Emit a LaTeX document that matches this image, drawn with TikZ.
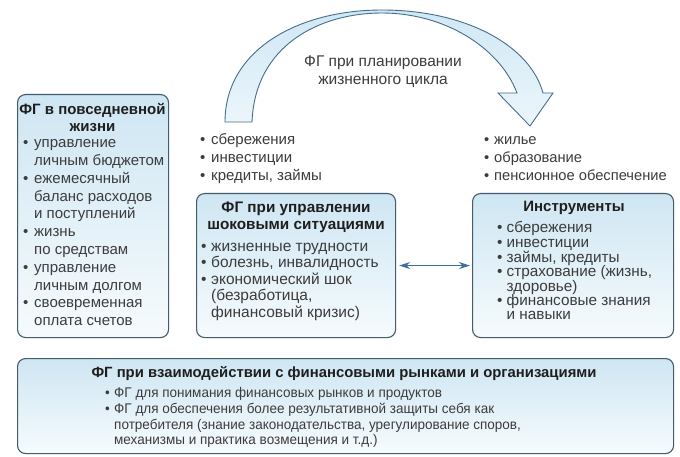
\documentclass[tikz,border=0pt]{standalone}
\usepackage{fontspec}
\setmainfont{Liberation Sans}
\newfontfamily\narf{Liberation Sans}[FakeStretch=0.965]
\usetikzlibrary{arrows.meta}
\definecolor{bord}{RGB}{70,92,108}
\definecolor{boxtop}{RGB}{206,230,243}
\definecolor{boxbot}{RGB}{246,251,253}
\definecolor{arrtop}{RGB}{208,232,245}
\definecolor{arrbot}{RGB}{236,246,251}
\definecolor{arrline}{RGB}{70,110,140}
\definecolor{txtc}{RGB}{60,60,60}
\definecolor{ttlc}{RGB}{30,30,30}
\definecolor{dblc}{RGB}{58,112,160}
\newcommand{\bl}[1]{\makebox[#1][l]{\textbullet}}
\newcommand{\ind}[1]{\hspace*{#1}}
\begin{document}
\begin{tikzpicture}[x=1pt,y=-1pt,
  box/.style={draw=bord, line width=1.1pt, rounded corners=8pt, top color=boxtop, bottom color=boxbot, inner sep=0pt, anchor=north west},
  txt/.style={inner sep=0pt, align=left, anchor=north west, text=txtc},
  ttl/.style={inner sep=0pt, align=center, anchor=north, text=ttlc, font=\bfseries\fontsize{15}{17}\selectfont},
  dbl/.style={{Stealth[length=11pt,width=7pt]}-{Stealth[length=11pt,width=7pt]}, draw=dblc, line width=1.6pt, shorten <=3pt, shorten >=2pt}
]
\useasboundingbox (0,0) rectangle (680,457);
\fill[white] (0,0) rectangle (680,457);

% curved arrow
\shade[draw=arrline, line width=0.9pt, top color=arrtop, bottom color=arrbot, line join=miter]
 (225,122) .. controls (225,50) and (298,10) .. (382,10)
 .. controls (465,10) and (530,45) .. (543,93)
 -- (553,93) -- (530,126) -- (498,93) -- (517,93)
 .. controls (500,48) and (445,13) .. (382,13)
 .. controls (320,13) and (255,45) .. (252,122) -- cycle;
\node[inner sep=0pt, align=center, anchor=north, text=txtc, font=\fontsize{15.5}{18}\selectfont] (arclbl) at (383,54)
 {\strut ФГ при планировании\\жизненного цикла};

% boxes
\node[box, minimum width=151pt, minimum height=243pt] (L) at (17,94) {};
\node[box, minimum width=199pt, minimum height=144pt] (M) at (196,193) {};
\node[box, minimum width=201pt, minimum height=144pt] (R) at (472,193) {};
\node[box, minimum width=656pt, minimum height=95pt] (B) at (17,358) {};

\draw[dbl] (M.east) -- (R.west);

% left box
\node[ttl] (Lt) at (92.5,102) {\strut ФГ в повседневной\\жизни};
\node[txt, font=\fontsize{15}{17.8}\selectfont] (Ll) at (23,135)
 {\strut\bl{11pt}управление\\
  \ind{11pt}личным бюджетом\\
  \bl{11pt}ежемесячный\\
  \ind{11pt}баланс расходов\\
  \ind{11pt}и поступлений\\
  \bl{11pt}жизнь\\
  \ind{11pt}по средствам\\
  \bl{11pt}управление\\
  \ind{11pt}личным долгом\\
  \bl{11pt}своевременная\\
  \ind{11pt}оплата счетов};

% top lists
\node[txt, font=\fontsize{15}{17.8}\selectfont] (TL) at (200,132)
 {\strut\bl{11pt}сбережения\\
  \bl{11pt}инвестиции\\
  \bl{11pt}кредиты, займы};
\node[txt, font=\fontsize{14.7}{17.8}\selectfont] (TR) at (484,132)
 {\strut\bl{10pt}жилье\\
  \bl{10pt}образование\\
  \bl{10pt}пенсионное обеспечение};

% middle box
\node[ttl, font=\bfseries\fontsize{15.3}{17}\selectfont] (Mt) at (296,200) {\strut ФГ при управлении\\шоковыми ситуациями};
\node[txt, font=\fontsize{15.5}{16.5}\selectfont] (Ml) at (201,239.5)
 {\strut\bl{10pt}жизненные трудности\\
  \bl{10pt}болезнь, инвалидность\\
  \bl{10pt}экономический шок\\
  \ind{10pt}(безработица,\\
  \ind{10pt}финансовый кризис)};

% right box
\node[ttl] (Rt) at (574,199.6) {\strut Инструменты};
\node[txt, font=\fontsize{15.3}{14.3}\selectfont] (Rl) at (497,221.5)
 {\strut\bl{9.5pt}сбережения\\
  \bl{9.5pt}инвестиции\\
  \bl{9.5pt}займы, кредиты\\
  \bl{9.5pt}страхование (жизнь,\\
  \ind{9.5pt}здоровье)\\
  \bl{9.5pt}финансовые знания\\
  \ind{9.5pt}и навыки};

% bottom box
\node[ttl, font=\bfseries\fontsize{14.85}{17}\selectfont] (Bt) at (344,365) {\strut ФГ при взаимодействии с финансовыми рынками и организациями};
\node[txt, font=\narf\fontsize{14}{15.7}\selectfont] (Bl) at (105,386.5)
 {\strut\bl{9pt}ФГ для понимания финансовых рынков и продуктов\\
  \bl{9pt}ФГ для обеспечения более результативной защиты себя как\\
  \ind{9pt}потребителя (знание законодательства, урегулирование споров,\\
  \ind{9pt}механизмы и практика возмещения и т.д.)};
\end{tikzpicture}
\end{document}
